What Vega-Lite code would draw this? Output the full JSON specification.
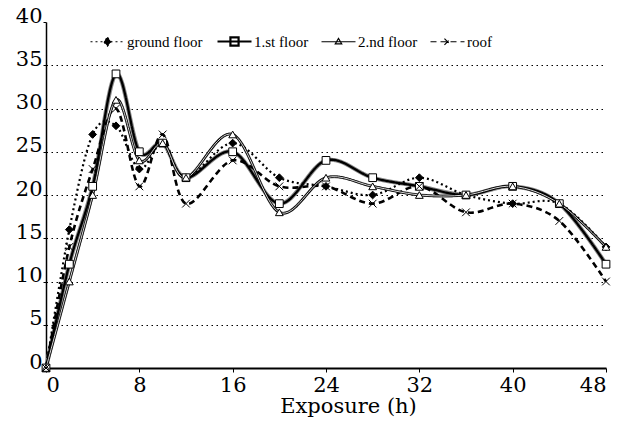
{
  "$schema": "https://vega.github.io/schema/vega-lite/v6.json",
  "width": 560,
  "height": 346,
  "autosize": {"type": "none"},
  "padding": {"left": 46, "top": 22, "right": 23, "bottom": 55},
  "background": "white",
  "config": {"view": {"stroke": null}, "font": "'Liberation Serif', 'DejaVu Serif', serif",
    "axis": {"labelFont": "'DejaVu Serif', serif", "titleFont": "'DejaVu Serif', serif"},
    "legend": {"labelFont": "'Liberation Serif', 'DejaVu Serif', serif"}},
  "data": {"values": [
    {"h": 0, "s": "ground floor", "v": 0}, {"h": 2, "s": "ground floor", "v": 16}, {"h": 4, "s": "ground floor", "v": 27}, {"h": 6, "s": "ground floor", "v": 28}, {"h": 8, "s": "ground floor", "v": 23}, {"h": 10, "s": "ground floor", "v": 26}, {"h": 12, "s": "ground floor", "v": 22}, {"h": 16, "s": "ground floor", "v": 26}, {"h": 20, "s": "ground floor", "v": 22}, {"h": 24, "s": "ground floor", "v": 21}, {"h": 28, "s": "ground floor", "v": 20}, {"h": 32, "s": "ground floor", "v": 22}, {"h": 36, "s": "ground floor", "v": 20}, {"h": 40, "s": "ground floor", "v": 19}, {"h": 44, "s": "ground floor", "v": 19}, {"h": 48, "s": "ground floor", "v": 14},
    {"h": 0, "s": "1.st floor", "v": 0}, {"h": 2, "s": "1.st floor", "v": 12}, {"h": 4, "s": "1.st floor", "v": 21}, {"h": 6, "s": "1.st floor", "v": 34}, {"h": 8, "s": "1.st floor", "v": 25}, {"h": 10, "s": "1.st floor", "v": 26}, {"h": 12, "s": "1.st floor", "v": 22}, {"h": 16, "s": "1.st floor", "v": 25}, {"h": 20, "s": "1.st floor", "v": 19}, {"h": 24, "s": "1.st floor", "v": 24}, {"h": 28, "s": "1.st floor", "v": 22}, {"h": 32, "s": "1.st floor", "v": 21}, {"h": 36, "s": "1.st floor", "v": 20}, {"h": 40, "s": "1.st floor", "v": 21}, {"h": 44, "s": "1.st floor", "v": 19}, {"h": 48, "s": "1.st floor", "v": 12},
    {"h": 0, "s": "2.nd floor", "v": 0}, {"h": 2, "s": "2.nd floor", "v": 10}, {"h": 4, "s": "2.nd floor", "v": 20}, {"h": 6, "s": "2.nd floor", "v": 31}, {"h": 8, "s": "2.nd floor", "v": 24}, {"h": 10, "s": "2.nd floor", "v": 26}, {"h": 12, "s": "2.nd floor", "v": 22}, {"h": 16, "s": "2.nd floor", "v": 27}, {"h": 20, "s": "2.nd floor", "v": 18}, {"h": 24, "s": "2.nd floor", "v": 22}, {"h": 28, "s": "2.nd floor", "v": 21}, {"h": 32, "s": "2.nd floor", "v": 20}, {"h": 36, "s": "2.nd floor", "v": 20}, {"h": 40, "s": "2.nd floor", "v": 21}, {"h": 44, "s": "2.nd floor", "v": 19}, {"h": 48, "s": "2.nd floor", "v": 14},
    {"h": 0, "s": "roof", "v": 0}, {"h": 2, "s": "roof", "v": 14}, {"h": 4, "s": "roof", "v": 23}, {"h": 6, "s": "roof", "v": 30}, {"h": 8, "s": "roof", "v": 21}, {"h": 10, "s": "roof", "v": 27}, {"h": 12, "s": "roof", "v": 19}, {"h": 16, "s": "roof", "v": 24}, {"h": 20, "s": "roof", "v": 21}, {"h": 24, "s": "roof", "v": 21}, {"h": 28, "s": "roof", "v": 19}, {"h": 32, "s": "roof", "v": 21}, {"h": 36, "s": "roof", "v": 18}, {"h": 40, "s": "roof", "v": 19}, {"h": 44, "s": "roof", "v": 17}, {"h": 48, "s": "roof", "v": 10}
  ]},
  "encoding": {
    "x": {"field": "h", "type": "quantitative",
      "scale": {"domain": [0, 48], "nice": false},
      "axis": {"values": [0, 8, 16, 24, 32, 40, 48], "grid": false, "domainColor": "black", "domainWidth": 2, "tickColor": "black", "tickSize": 4, "labelFont": "'DejaVu Serif', serif", "labelFontSize": 21, "labelColor": "black", "labelPadding": 2, "title": "Exposure (h)", "titleFont": "'DejaVu Serif', serif", "titleFontSize": 21, "titleFontWeight": "normal", "titleColor": "black", "titlePadding": 0, "titleX": 302}},
    "y": {"field": "v", "type": "quantitative",
      "scale": {"domain": [0, 40], "nice": false},
      "axis": {"values": [0, 5, 10, 15, 20, 25, 30, 35, 40], "grid": true, "gridDash": [1.5, 3.5], "gridColor": "black", "gridWidth": 1,
        "gridOpacity": {"condition": {"test": "datum.value >= 40 || datum.value <= 0", "value": 0}, "value": 1},
        "domainColor": "black", "domainWidth": 1.5, "tickColor": "black", "tickSize": 3, "labelFont": "'DejaVu Serif', serif", "labelFontSize": 21, "labelColor": "black", "labelPadding": 1, "labelBaseline": "alphabetic", "title": null}}
  },
  "layer": [
    {
      "transform": [{"filter": "datum.s === '1.st floor' || datum.s === '2.nd floor'"}, {"calculate": "datum.s", "as": "halo"}],
      "mark": {"type": "line", "interpolate": "cardinal", "color": "#8a8a8a"},
      "encoding": {
        "detail": {"field": "halo"},
        "strokeWidth": {"field": "halo", "type": "nominal", "scale": {"domain": ["1.st floor", "2.nd floor"], "range": [4.2, 3]}, "legend": null}
      }
    },
    {
      "mark": {"type": "line", "interpolate": "cardinal", "color": "black"},
      "encoding": {
        "strokeDash": {"field": "s", "type": "nominal",
          "scale": {"domain": ["ground floor", "1.st floor", "2.nd floor", "roof"], "range": [[2, 3], [1, 0], [1, 0], [6, 4]]},
          "legend": {"title": null, "orient": "none", "legendX": 54, "legendY": 12, "direction": "horizontal",
            "symbolSize": 1156, "symbolStrokeColor": "black", "symbolType": "stroke", "labelFontSize": 15, "labelFont": "'Liberation Serif', 'DejaVu Serif', serif", "labelColor": "black", "labelOffset": 12, "columnPadding": 10,
            "encode": {"symbols": {"update": {
              "shape": {"signal": "datum.value === 'ground floor' ? 'M-1,0L1,0M0,-0.26L0.22,0L0,0.26L-0.22,0Z' : datum.value === '1.st floor' ? 'M-1,0L1,0M-0.24,-0.24L0.24,-0.24L0.24,0.24L-0.24,0.24Z' : datum.value === '2.nd floor' ? 'M-1,0L1,0M0,-0.2L0.19,0.13L-0.19,0.13Z' : 'M-1,0L1,0M-0.18,-0.18L0.18,0.18M-0.18,0.18L0.18,-0.18'"},
              "fill": {"signal": "datum.value === 'ground floor' ? 'black' : datum.value === 'roof' ? 'transparent' : 'white'"},
              "stroke": {"value": "black"},
              "size": {"value": 1156},
              "strokeWidth": {"signal": "datum.value === '1.st floor' ? 2.2 : 1.2"}
            }}}
          }},
        "strokeWidth": {"field": "s", "type": "nominal", "scale": {"domain": ["ground floor", "1.st floor", "2.nd floor", "roof"], "range": [2.2, 2.6, 2.6, 1.2]}, "legend": null}
      }
    },
    {
      "transform": [{"filter": "datum.s === '2.nd floor'"}, {"calculate": "datum.s", "as": "inner"}],
      "mark": {"type": "line", "interpolate": "cardinal", "color": "#d8d8d8", "strokeWidth": 1},
      "encoding": {"detail": {"field": "inner"}}
    },
    {
      "transform": [{"calculate": "datum.s", "as": "series"}],
      "mark": {"type": "point", "filled": true, "stroke": "black", "strokeWidth": 1, "opacity": 1},
      "encoding": {
        "shape": {"field": "series", "type": "nominal", "scale": {"domain": ["ground floor", "1.st floor", "2.nd floor", "roof"], "range": ["diamond", "square", "triangle-up", "M-1,-1L1,1M-1,1L1,-1"]}, "legend": null},
        "fill": {"field": "series", "type": "nominal", "scale": {"domain": ["ground floor", "1.st floor", "2.nd floor", "roof"], "range": ["black", "white", "white", "transparent"]}, "legend": null},
        "size": {"field": "series", "type": "nominal", "scale": {"domain": ["ground floor", "1.st floor", "2.nd floor", "roof"], "range": [60, 60, 36, 30]}, "legend": null}
      }
    }
  ],
  "resolve": {"scale": {"shape": "independent", "fill": "independent", "size": "independent", "strokeWidth": "independent"}}
}
